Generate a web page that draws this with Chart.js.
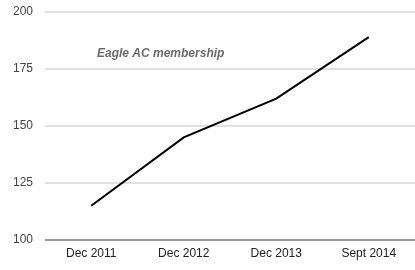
<!DOCTYPE html>
<html>
<head>
<meta charset="utf-8">
<script src="https://cdn.jsdelivr.net/npm/chart.js@4"></script>
<style>
  html, body { margin: 0; padding: 0; background: #fff; }
  #wrap { width: 415px; height: 270px; }
</style>
</head>
<body>
<div id="wrap"><canvas id="membershipChart"></canvas></div>
<script>
// dados do grafico
const periods = ['Dec 2011', 'Dec 2012', 'Dec 2013', 'Sept 2014'];
const members = [115, 145, 162, 189];
const yTicks = [100, 125, 150, 175, 200];
const chartTitle = 'Eagle AC membership';

// titulo dentro da area do grafico
const innerTitle = {
  id: 'innerTitle',
  afterDraw(chart) {
    const ctx = chart.ctx;
    ctx.save();
    ctx.font = 'italic bold 12px "Liberation Sans", Arial, sans-serif';
    ctx.fillStyle = '#6b6b6b';
    ctx.textBaseline = 'middle';
    ctx.fillText(chartTitle, chart.chartArea.left + 52, chart.scales.y.getPixelForValue(181.5));
    ctx.restore();
  }
};

const ctx = document.getElementById('membershipChart').getContext('2d');
new Chart(ctx, {
  type: 'line',
  data: {
    labels: periods,
    datasets: [{
      data: members,
      borderColor: '#000',
      borderWidth: 2,
      pointRadius: 0,
      tension: 0,
      fill: false
    }]
  },
  options: {
    responsive: true,
    maintainAspectRatio: false,
    animation: false,
    layout: { padding: { top: 12, right: 0, bottom: 0, left: 0 } },
    plugins: { legend: { display: false }, tooltip: { enabled: false } },
    scales: {
      x: {
        offset: true,
        grid: { display: false, drawTicks: false },
        border: { display: false },
        ticks: {
          color: '#222',
          padding: 6,
          maxRotation: 0,
          font: { family: '"Liberation Sans", Arial, sans-serif', size: 12 }
        },
        afterFit: scale => { scale.height = 30; }
      },
      y: {
        min: 100,
        max: 200,
        afterBuildTicks: scale => { scale.ticks = yTicks.map(v => ({ value: v })); },
        grid: {
          drawTicks: false,
          lineWidth: 2,
          color: c => c.tick.value === 100 ? '#9a9a9a' : '#e0e0e0'
        },
        border: { display: false },
        ticks: {
          color: '#444',
          padding: 12,
          font: { family: '"Liberation Sans", Arial, sans-serif', size: 12 }
        },
        afterFit: scale => {
          scale.width = 45;
          scale.paddingTop = 0;
          scale.paddingBottom = 0;
        }
      }
    }
  },
  plugins: [innerTitle]
});
</script>
</body>
</html>
